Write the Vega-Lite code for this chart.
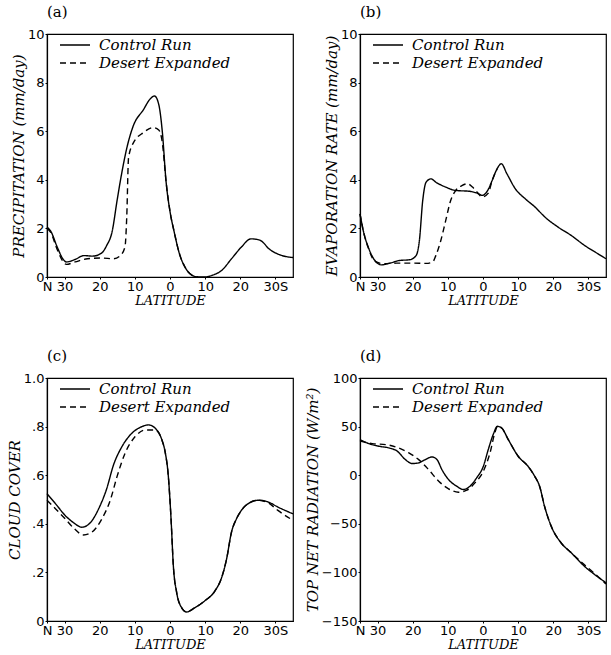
{
"$schema":"https://vega.github.io/schema/vega-lite/v6.json",
"background":"white",
"padding":{"left":6,"top":4,"right":1,"bottom":0},
"datasets":{
"a":[
{"lat":35,"v":2.05,"s":"Control Run"},{"lat":34,"v":1.9,"s":"Control Run"},{"lat":32,"v":1.2,"s":"Control Run"},{"lat":30.5,"v":0.75,"s":"Control Run"},{"lat":29.5,"v":0.62,"s":"Control Run"},{"lat":27,"v":0.72,"s":"Control Run"},{"lat":24.5,"v":0.88,"s":"Control Run"},{"lat":22,"v":0.86,"s":"Control Run"},{"lat":19.5,"v":0.98,"s":"Control Run"},{"lat":18,"v":1.3,"s":"Control Run"},{"lat":16.5,"v":1.85,"s":"Control Run"},{"lat":15,"v":3.2,"s":"Control Run"},{"lat":13.7,"v":4.3,"s":"Control Run"},{"lat":12.3,"v":5.3,"s":"Control Run"},{"lat":10.5,"v":6.2,"s":"Control Run"},{"lat":7.5,"v":6.9,"s":"Control Run"},{"lat":5.8,"v":7.3,"s":"Control Run"},{"lat":4.4,"v":7.45,"s":"Control Run"},{"lat":3.2,"v":7.1,"s":"Control Run"},{"lat":2.2,"v":6.0,"s":"Control Run"},{"lat":1.1,"v":3.9,"s":"Control Run"},{"lat":0,"v":2.7,"s":"Control Run"},{"lat":-1.2,"v":1.85,"s":"Control Run"},{"lat":-2.6,"v":1.0,"s":"Control Run"},{"lat":-4.5,"v":0.35,"s":"Control Run"},{"lat":-6.3,"v":0.07,"s":"Control Run"},{"lat":-8,"v":0.0,"s":"Control Run"},{"lat":-10,"v":0.0,"s":"Control Run"},{"lat":-12,"v":0.07,"s":"Control Run"},{"lat":-14.7,"v":0.27,"s":"Control Run"},{"lat":-17.5,"v":0.75,"s":"Control Run"},{"lat":-20.3,"v":1.23,"s":"Control Run"},{"lat":-23,"v":1.57,"s":"Control Run"},{"lat":-25.5,"v":1.52,"s":"Control Run"},{"lat":-28.5,"v":1.12,"s":"Control Run"},{"lat":-31.5,"v":0.9,"s":"Control Run"},{"lat":-35,"v":0.8,"s":"Control Run"},
{"lat":35,"v":2.0,"s":"Desert Expanded"},{"lat":34,"v":1.85,"s":"Desert Expanded"},{"lat":32,"v":1.1,"s":"Desert Expanded"},{"lat":30.5,"v":0.65,"s":"Desert Expanded"},{"lat":29.5,"v":0.52,"s":"Desert Expanded"},{"lat":27,"v":0.62,"s":"Desert Expanded"},{"lat":23.5,"v":0.75,"s":"Desert Expanded"},{"lat":19.5,"v":0.78,"s":"Desert Expanded"},{"lat":16,"v":0.75,"s":"Desert Expanded"},{"lat":14,"v":0.9,"s":"Desert Expanded"},{"lat":12.8,"v":1.25,"s":"Desert Expanded"},{"lat":12.3,"v":2.5,"s":"Desert Expanded"},{"lat":11.8,"v":4.9,"s":"Desert Expanded"},{"lat":10.5,"v":5.5,"s":"Desert Expanded"},{"lat":7.5,"v":5.95,"s":"Desert Expanded"},{"lat":4.8,"v":6.15,"s":"Desert Expanded"},{"lat":3.2,"v":6.05,"s":"Desert Expanded"},{"lat":2.2,"v":5.55,"s":"Desert Expanded"},{"lat":1.1,"v":3.9,"s":"Desert Expanded"},{"lat":0,"v":2.7,"s":"Desert Expanded"},{"lat":-1.2,"v":1.85,"s":"Desert Expanded"},{"lat":-2.6,"v":1.0,"s":"Desert Expanded"},{"lat":-4.5,"v":0.35,"s":"Desert Expanded"},{"lat":-6.3,"v":0.07,"s":"Desert Expanded"},{"lat":-8,"v":0.0,"s":"Desert Expanded"}
],
"b":[
{"lat":35,"v":2.6,"s":"Control Run"},{"lat":34.06,"v":1.9,"s":"Control Run"},{"lat":32.65,"v":1.23,"s":"Control Run"},{"lat":30.77,"v":0.68,"s":"Control Run"},{"lat":28.9,"v":0.5,"s":"Control Run"},{"lat":26.5,"v":0.57,"s":"Control Run"},{"lat":23.7,"v":0.68,"s":"Control Run"},{"lat":20.9,"v":0.71,"s":"Control Run"},{"lat":19.0,"v":0.89,"s":"Control Run"},{"lat":18.1,"v":1.5,"s":"Control Run"},{"lat":17.15,"v":3.15,"s":"Control Run"},{"lat":16.2,"v":3.9,"s":"Control Run"},{"lat":14.8,"v":4.04,"s":"Control Run"},{"lat":13.4,"v":3.9,"s":"Control Run"},{"lat":10.6,"v":3.7,"s":"Control Run"},{"lat":7.75,"v":3.56,"s":"Control Run"},{"lat":4.0,"v":3.53,"s":"Control Run"},{"lat":1.65,"v":3.45,"s":"Control Run"},{"lat":0.23,"v":3.36,"s":"Control Run"},{"lat":-1.2,"v":3.53,"s":"Control Run"},{"lat":-2.6,"v":3.97,"s":"Control Run"},{"lat":-4.0,"v":4.45,"s":"Control Run"},{"lat":-5.2,"v":4.66,"s":"Control Run"},{"lat":-6.8,"v":4.25,"s":"Control Run"},{"lat":-9.2,"v":3.63,"s":"Control Run"},{"lat":-12.0,"v":3.22,"s":"Control Run"},{"lat":-14.8,"v":2.88,"s":"Control Run"},{"lat":-17.6,"v":2.47,"s":"Control Run"},{"lat":-21.4,"v":2.05,"s":"Control Run"},{"lat":-25.1,"v":1.71,"s":"Control Run"},{"lat":-28.9,"v":1.3,"s":"Control Run"},{"lat":-32.65,"v":0.96,"s":"Control Run"},{"lat":-35,"v":0.75,"s":"Control Run"},
{"lat":35,"v":2.6,"s":"Desert Expanded"},{"lat":34.06,"v":1.9,"s":"Desert Expanded"},{"lat":32.65,"v":1.2,"s":"Desert Expanded"},{"lat":30.77,"v":0.65,"s":"Desert Expanded"},{"lat":28.4,"v":0.55,"s":"Desert Expanded"},{"lat":24.7,"v":0.57,"s":"Desert Expanded"},{"lat":20.0,"v":0.57,"s":"Desert Expanded"},{"lat":16.2,"v":0.56,"s":"Desert Expanded"},{"lat":14.3,"v":0.62,"s":"Desert Expanded"},{"lat":13.4,"v":0.89,"s":"Desert Expanded"},{"lat":12.0,"v":1.5,"s":"Desert Expanded"},{"lat":10.6,"v":2.33,"s":"Desert Expanded"},{"lat":9.2,"v":3.15,"s":"Desert Expanded"},{"lat":7.75,"v":3.56,"s":"Desert Expanded"},{"lat":5.9,"v":3.77,"s":"Desert Expanded"},{"lat":4.45,"v":3.84,"s":"Desert Expanded"},{"lat":3.0,"v":3.7,"s":"Desert Expanded"},{"lat":1.65,"v":3.49,"s":"Desert Expanded"},{"lat":0.23,"v":3.29,"s":"Desert Expanded"},{"lat":-1.5,"v":3.45,"s":"Desert Expanded"},{"lat":-2.6,"v":3.97,"s":"Desert Expanded"},{"lat":-4.0,"v":4.45,"s":"Desert Expanded"}
],
"c":[
{"lat":35,"v":0.524,"s":"Control Run"},{"lat":32.6,"v":0.483,"s":"Control Run"},{"lat":29.8,"v":0.434,"s":"Control Run"},{"lat":27.4,"v":0.404,"s":"Control Run"},{"lat":25.1,"v":0.386,"s":"Control Run"},{"lat":22.7,"v":0.404,"s":"Control Run"},{"lat":20.3,"v":0.462,"s":"Control Run"},{"lat":18.0,"v":0.545,"s":"Control Run"},{"lat":16.1,"v":0.641,"s":"Control Run"},{"lat":13.7,"v":0.717,"s":"Control Run"},{"lat":10.9,"v":0.772,"s":"Control Run"},{"lat":8.0,"v":0.8,"s":"Control Run"},{"lat":6.1,"v":0.807,"s":"Control Run"},{"lat":4.2,"v":0.793,"s":"Control Run"},{"lat":2.3,"v":0.745,"s":"Control Run"},{"lat":1.4,"v":0.697,"s":"Control Run"},{"lat":0.5,"v":0.6,"s":"Control Run"},{"lat":-0.3,"v":0.42,"s":"Control Run"},{"lat":-0.95,"v":0.228,"s":"Control Run"},{"lat":-1.9,"v":0.117,"s":"Control Run"},{"lat":-3.3,"v":0.055,"s":"Control Run"},{"lat":-4.7,"v":0.037,"s":"Control Run"},{"lat":-7.1,"v":0.055,"s":"Control Run"},{"lat":-9.9,"v":0.083,"s":"Control Run"},{"lat":-12.8,"v":0.124,"s":"Control Run"},{"lat":-14.7,"v":0.179,"s":"Control Run"},{"lat":-16.1,"v":0.255,"s":"Control Run"},{"lat":-17.5,"v":0.366,"s":"Control Run"},{"lat":-18.9,"v":0.42,"s":"Control Run"},{"lat":-20.3,"v":0.455,"s":"Control Run"},{"lat":-22.7,"v":0.487,"s":"Control Run"},{"lat":-25.1,"v":0.497,"s":"Control Run"},{"lat":-27.9,"v":0.49,"s":"Control Run"},{"lat":-30.7,"v":0.469,"s":"Control Run"},{"lat":-35,"v":0.441,"s":"Control Run"},
{"lat":35,"v":0.497,"s":"Desert Expanded"},{"lat":32.6,"v":0.462,"s":"Desert Expanded"},{"lat":29.8,"v":0.42,"s":"Desert Expanded"},{"lat":27.4,"v":0.382,"s":"Desert Expanded"},{"lat":24.6,"v":0.354,"s":"Desert Expanded"},{"lat":22.2,"v":0.366,"s":"Desert Expanded"},{"lat":19.4,"v":0.42,"s":"Desert Expanded"},{"lat":17.0,"v":0.497,"s":"Desert Expanded"},{"lat":15.1,"v":0.593,"s":"Desert Expanded"},{"lat":12.8,"v":0.69,"s":"Desert Expanded"},{"lat":9.9,"v":0.759,"s":"Desert Expanded"},{"lat":7.1,"v":0.786,"s":"Desert Expanded"},{"lat":4.2,"v":0.786,"s":"Desert Expanded"},{"lat":2.3,"v":0.745,"s":"Desert Expanded"},{"lat":1.4,"v":0.697,"s":"Desert Expanded"},{"lat":0.5,"v":0.6,"s":"Desert Expanded"},{"lat":-0.3,"v":0.42,"s":"Desert Expanded"},{"lat":-0.95,"v":0.228,"s":"Desert Expanded"},{"lat":-1.9,"v":0.117,"s":"Desert Expanded"},{"lat":-3.3,"v":0.055,"s":"Desert Expanded"},{"lat":-4.7,"v":0.037,"s":"Desert Expanded"},{"lat":-7.1,"v":0.055,"s":"Desert Expanded"},{"lat":-9.9,"v":0.083,"s":"Desert Expanded"},{"lat":-12.8,"v":0.124,"s":"Desert Expanded"},{"lat":-14.7,"v":0.179,"s":"Desert Expanded"},{"lat":-16.1,"v":0.255,"s":"Desert Expanded"},{"lat":-17.5,"v":0.366,"s":"Desert Expanded"},{"lat":-18.9,"v":0.42,"s":"Desert Expanded"},{"lat":-20.3,"v":0.455,"s":"Desert Expanded"},{"lat":-22.7,"v":0.487,"s":"Desert Expanded"},{"lat":-25.1,"v":0.497,"s":"Desert Expanded"},{"lat":-27.9,"v":0.487,"s":"Desert Expanded"},{"lat":-30.7,"v":0.455,"s":"Desert Expanded"},{"lat":-35,"v":0.414,"s":"Desert Expanded"}
],
"d":[
{"lat":35,"v":36.6,"s":"Control Run"},{"lat":32.45,"v":32.5,"s":"Control Run"},{"lat":29.6,"v":29.8,"s":"Control Run"},{"lat":26.8,"v":28.1,"s":"Control Run"},{"lat":24.4,"v":24.7,"s":"Control Run"},{"lat":22.1,"v":16.1,"s":"Control Run"},{"lat":20.2,"v":12,"s":"Control Run"},{"lat":18.3,"v":12.7,"s":"Control Run"},{"lat":16.4,"v":16.1,"s":"Control Run"},{"lat":14.5,"v":18.8,"s":"Control Run"},{"lat":13.1,"v":16.1,"s":"Control Run"},{"lat":11.7,"v":5.8,"s":"Control Run"},{"lat":9.8,"v":-4.5,"s":"Control Run"},{"lat":7.5,"v":-11.3,"s":"Control Run"},{"lat":5.6,"v":-14.7,"s":"Control Run"},{"lat":3.7,"v":-11.3,"s":"Control Run"},{"lat":1.8,"v":-2.7,"s":"Control Run"},{"lat":-0.1,"v":9.2,"s":"Control Run"},{"lat":-1.5,"v":26.4,"s":"Control Run"},{"lat":-2.9,"v":41.8,"s":"Control Run"},{"lat":-4.1,"v":50.3,"s":"Control Run"},{"lat":-5.3,"v":48.6,"s":"Control Run"},{"lat":-7.2,"v":36.6,"s":"Control Run"},{"lat":-10.0,"v":19.5,"s":"Control Run"},{"lat":-12.8,"v":9.2,"s":"Control Run"},{"lat":-14.7,"v":-1,"s":"Control Run"},{"lat":-16.1,"v":-11.3,"s":"Control Run"},{"lat":-17.5,"v":-31.8,"s":"Control Run"},{"lat":-19.4,"v":-52.4,"s":"Control Run"},{"lat":-22.2,"v":-69.5,"s":"Control Run"},{"lat":-25.1,"v":-79.8,"s":"Control Run"},{"lat":-28.8,"v":-93.5,"s":"Control Run"},{"lat":-31.7,"v":-102,"s":"Control Run"},{"lat":-35,"v":-110.6,"s":"Control Run"},
{"lat":35,"v":35,"s":"Desert Expanded"},{"lat":31.5,"v":32.5,"s":"Desert Expanded"},{"lat":27.7,"v":31.5,"s":"Desert Expanded"},{"lat":24.0,"v":28,"s":"Desert Expanded"},{"lat":21.1,"v":23,"s":"Desert Expanded"},{"lat":18.3,"v":16,"s":"Desert Expanded"},{"lat":15.5,"v":5.8,"s":"Desert Expanded"},{"lat":12.6,"v":-6.2,"s":"Desert Expanded"},{"lat":9.8,"v":-14,"s":"Desert Expanded"},{"lat":7.0,"v":-17.5,"s":"Desert Expanded"},{"lat":4.6,"v":-15.4,"s":"Desert Expanded"},{"lat":2.3,"v":-7.9,"s":"Desert Expanded"},{"lat":-0.1,"v":4.1,"s":"Desert Expanded"},{"lat":-2.0,"v":23,"s":"Desert Expanded"},{"lat":-3.4,"v":44,"s":"Desert Expanded"},{"lat":-4.1,"v":50.3,"s":"Desert Expanded"},{"lat":-5.3,"v":48.6,"s":"Desert Expanded"},{"lat":-7.2,"v":36.6,"s":"Desert Expanded"},{"lat":-10.0,"v":19.5,"s":"Desert Expanded"},{"lat":-12.8,"v":9.2,"s":"Desert Expanded"},{"lat":-14.7,"v":-1,"s":"Desert Expanded"},{"lat":-16.1,"v":-11.3,"s":"Desert Expanded"},{"lat":-17.5,"v":-31.8,"s":"Desert Expanded"},{"lat":-19.4,"v":-52.4,"s":"Desert Expanded"},{"lat":-22.2,"v":-69.5,"s":"Desert Expanded"},{"lat":-25.1,"v":-79.8,"s":"Desert Expanded"},{"lat":-28.8,"v":-92,"s":"Desert Expanded"},{"lat":-31.7,"v":-101,"s":"Desert Expanded"},{"lat":-35,"v":-112,"s":"Desert Expanded"}
]
},
"columns":2,
"spacing":{"row":101,"column":67},
"bounds":"flush",
"align":"all",
"resolve":{"scale":{"strokeDash":"independent","x":"independent","y":"independent"},"legend":{"strokeDash":"independent"}},
"concat":[
{"title":{"text":"(a)"},"width":246,"height":243,"data":{"name":"a"},
 "mark":{"type":"line","interpolate":"monotone","color":"black","strokeWidth":1.4},
 "encoding":{
  "x":{"field":"lat","type":"quantitative","scale":{"domain":[35,-35],"nice":false,"zero":false},"axis":{"title":"LATITUDE","values":[35,30,20,10,0,-10,-20,-30],"labelExpr":"datum.value==35?'N':datum.value==-30?'30S':format(abs(datum.value),'d')"}},
  "y":{"field":"v","type":"quantitative","scale":{"domain":[0,10],"nice":false},"axis":{"title":"PRECIPITATION (mm/day)","values":[0,2,4,6,8,10]}},
  "strokeDash":{"field":"s","type":"nominal","scale":{"domain":["Control Run","Desert Expanded"],"range":[[1,0],[6,4]]},"legend":{"orient":"none","legendX":12,"legendY":4,"title":null}}
 }},
{"title":{"text":"(b)"},"width":246,"height":243,"data":{"name":"b"},
 "mark":{"type":"line","interpolate":"monotone","color":"black","strokeWidth":1.4},
 "encoding":{
  "x":{"field":"lat","type":"quantitative","scale":{"domain":[35,-35],"nice":false,"zero":false},"axis":{"title":"LATITUDE","values":[35,30,20,10,0,-10,-20,-30],"labelExpr":"datum.value==35?'N':datum.value==-30?'30S':format(abs(datum.value),'d')"}},
  "y":{"field":"v","type":"quantitative","scale":{"domain":[0,10],"nice":false},"axis":{"title":"EVAPORATION RATE (mm/day)","values":[0,2,4,6,8,10]}},
  "strokeDash":{"field":"s","type":"nominal","scale":{"domain":["Control Run","Desert Expanded"],"range":[[1,0],[6,4]]},"legend":{"orient":"none","legendX":12,"legendY":4,"title":null}}
 }},
{"title":{"text":"(c)"},"width":246,"height":243,"data":{"name":"c"},
 "mark":{"type":"line","interpolate":"monotone","color":"black","strokeWidth":1.4},
 "encoding":{
  "x":{"field":"lat","type":"quantitative","scale":{"domain":[35,-35],"nice":false,"zero":false},"axis":{"title":"LATITUDE","values":[35,30,20,10,0,-10,-20,-30],"labelExpr":"datum.value==35?'N':datum.value==-30?'30S':format(abs(datum.value),'d')"}},
  "y":{"field":"v","type":"quantitative","scale":{"domain":[0,1],"nice":false},"axis":{"title":"CLOUD COVER","values":[0,0.2,0.4,0.6,0.8,1],"labelExpr":"datum.value==0?'0':datum.value==1?'1.0':replace(format(datum.value,'.1f'),'0.','.')"}},
  "strokeDash":{"field":"s","type":"nominal","scale":{"domain":["Control Run","Desert Expanded"],"range":[[1,0],[6,4]]},"legend":{"orient":"none","legendX":12,"legendY":4,"title":null}}
 }},
{"title":{"text":"(d)"},"width":246,"height":243,"data":{"name":"d"},
 "mark":{"type":"line","interpolate":"monotone","color":"black","strokeWidth":1.4},
 "encoding":{
  "x":{"field":"lat","type":"quantitative","scale":{"domain":[35,-35],"nice":false,"zero":false},"axis":{"title":"LATITUDE","values":[35,30,20,10,0,-10,-20,-30],"labelExpr":"datum.value==35?'N':datum.value==-30?'30S':format(abs(datum.value),'d')"}},
  "y":{"field":"v","type":"quantitative","scale":{"domain":[-150,100],"nice":false},"axis":{"title":"TOP NET RADIATION (W/m²)","values":[-150,-100,-50,0,50,100]}},
  "strokeDash":{"field":"s","type":"nominal","scale":{"domain":["Control Run","Desert Expanded"],"range":[[1,0],[6,4]]},"legend":{"orient":"none","legendX":12,"legendY":4,"title":null}}
 }}
],
"config":{
 "view":{"stroke":"black","strokeWidth":1.2},
 "title":{"anchor":"start","frame":"group","font":"DejaVu Serif","fontSize":15,"fontWeight":"normal","color":"black","offset":8},
 "axis":{"grid":false,"domainColor":"black","domainWidth":1.2,"tickColor":"black","tickSize":2,"labelColor":"black","titleColor":"black","labelFont":"DejaVu Sans","labelFontSize":13,"labelPadding":1,"titleFont":"DejaVu Serif","titleFontStyle":"italic","titleFontWeight":"normal","titleFontSize":15,"titlePadding":1},
 "axisX":{"labelFlush":false,"labelOverlap":false,"titleFontSize":13,"titlePadding":1},
 "legend":{"labelFont":"DejaVu Serif","labelFontStyle":"italic","labelFontSize":15,"labelColor":"black","symbolType":"stroke","symbolSize":900,"symbolStrokeWidth":1.4,"symbolStrokeColor":"black","labelOffset":8,"rowPadding":3,"clipHeight":14,"padding":0}
}
}
